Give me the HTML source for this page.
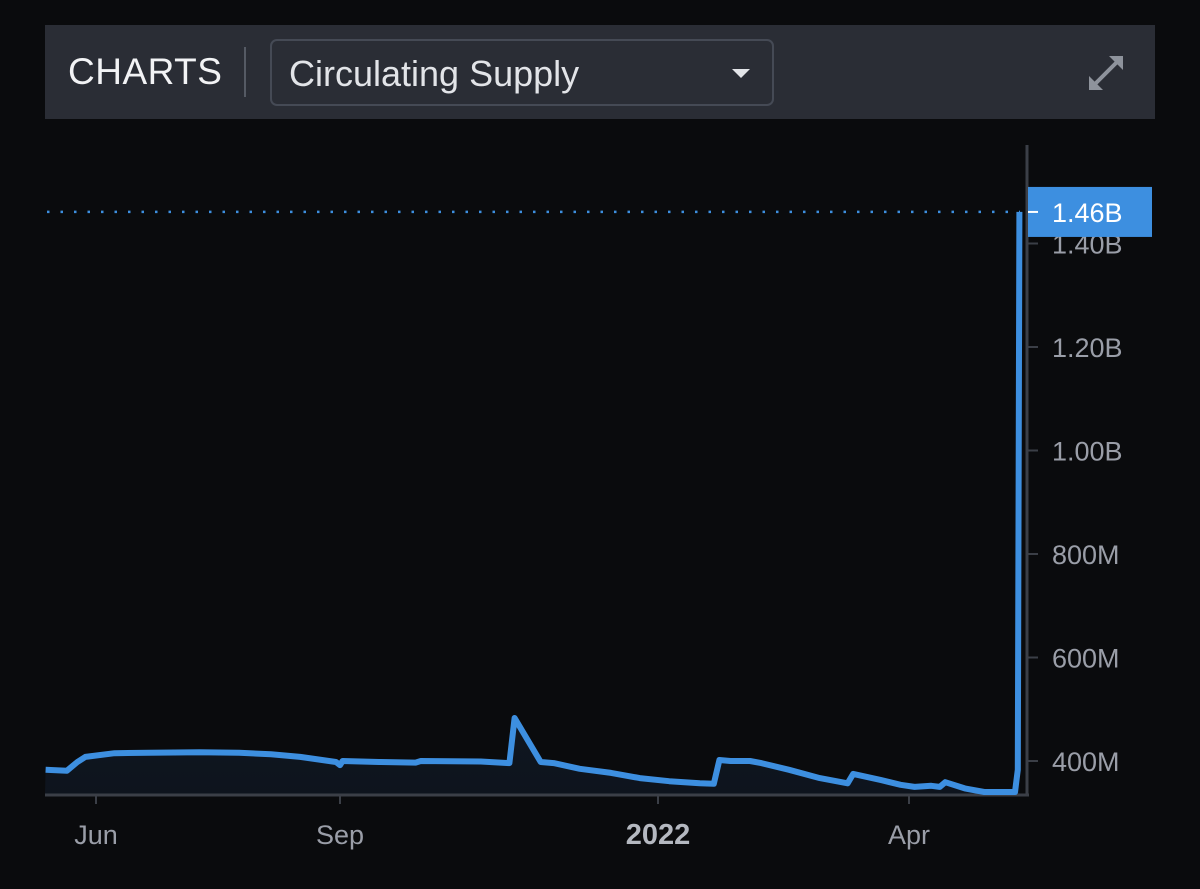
<!DOCTYPE html>
<html><head><meta charset="utf-8"><style>
html,body{margin:0;padding:0;background:#0a0b0d;width:1200px;height:889px;overflow:hidden;font-family:"Liberation Sans","DejaVu Sans",sans-serif}
#hdr{position:absolute;left:45px;top:25px;width:1110px;height:94px;background:#2a2d35}
#ttl{position:absolute;left:23px;top:26px;color:#f2f3f5;font-size:37px;letter-spacing:0.5px}
#sep{position:absolute;left:199px;top:22px;width:2px;height:50px;background:#555a64}
#dd{position:absolute;left:225px;top:14px;width:500px;height:63px;border:2px solid #454a55;border-radius:7px}
#ddt{position:absolute;left:17px;top:12px;color:#e2e4e8;font-size:36px}
#car{position:absolute;left:460px;top:28px;width:0;height:0;border-left:9px solid transparent;border-right:9px solid transparent;border-top:9px solid #e2e4e8}
svg{position:absolute;left:0;top:0}
</style></head><body>
<div id="hdr">
<div id="ttl">CHARTS</div>
<div id="sep"></div>
<div id="dd"><div id="ddt">Circulating Supply</div><div id="car"></div></div>
<svg id="exp" width="42" height="42" viewBox="0 0 42 42" style="left:1040px;top:27px"><g stroke="#8e939c" stroke-width="4" fill="none"><path d="M6 36 L36 6"/></g><path d="M24 4 L38 4 L38 18 Z" fill="#8e939c"/><path d="M4 24 L4 38 L18 38 Z" fill="#8e939c"/></svg>
</div>
<svg id="chart" width="1200" height="889">
<defs><linearGradient id="g" x1="0" y1="0" x2="0" y2="1"><stop offset="0" stop-color="#17263a"/><stop offset="1" stop-color="#0e141d"/></linearGradient></defs>
</svg>
<script>
const days=[-19,-11,-7,-4,7,20,39,54,66,77,90.5,92,93,107,121,123,146,157,159,169,174,184,196,207,218,229,234,236,240,247,251,261,272,282,284,294,301,306,312,315,317,324,331,342,343,343.6];
const supply=[383,381,398,408,415,416,417,416,413,408,398,392,400,398,397,400,399,396,483,398,396,385,377,367,361,357,356,402,400,400,396,383,367,357,375,363,354,350,352,350,359,347,340,340,383,1461];
const xTickDays=[0,92,214,304];
const xTickLabels=["Jun","Sep","2022","Apr"];
const yTicks=[400,600,800,1000,1200,1400];
const yTickLabels=["400M","600M","800M","1.00B","1.20B","1.40B"];
const lastLabel="1.46B";
const NS="http://www.w3.org/2000/svg";
const svg=document.getElementById('chart');
const tickPx=[96,340,658,909];
function X(d){
  let i=0;
  if(d>=xTickDays[2]) i=2; else if(d>=xTickDays[1]) i=1; else i=0;
  const s=(tickPx[i+1]-tickPx[i])/(xTickDays[i+1]-xTickDays[i]);
  return tickPx[i]+(d-xTickDays[i])*s;
}
function Y(v){return 761-(v-400)*0.5175;}
function mk(t,a,txt){const e=document.createElementNS(NS,t);for(const k in a)e.setAttribute(k,a[k]);if(txt!==undefined)e.textContent=txt;svg.appendChild(e);return e;}
let pts=days.map((d,i)=>[X(d),Y(supply[i])]);
pts[0][0]=Math.max(45,pts[0][0]);
const lineD=pts.map((p,i)=>(i?'L':'M')+p[0].toFixed(1)+' '+p[1].toFixed(1)).join(' ');
const area=mk('path',{d:lineD+` L${pts[pts.length-1][0]} 795 L45 795 Z`,fill:'url(#g)'});


const xa=mk('line',{x1:45,y1:795,x2:1029,y2:795,stroke:'#3b3f47','stroke-width':3});


const ya=mk('line',{x1:1027,y1:145,x2:1027,y2:796,stroke:'#3b3f47','stroke-width':3});


xTickDays.forEach((d,i)=>{
  const x=X(d);
  const t=mk('line',{x1:x,y1:796,x2:x,y2:804,stroke:'#3b3f47','stroke-width':2});
  
  
  const l=mk('text',{x:x,y:844,'text-anchor':'middle',fill:i==2?'#b4b8c0':'#9a9ea8','font-size':i==2?29:27,'font-weight':i==2?'bold':'normal'},xTickLabels[i]);
  
  
});
yTicks.forEach((v,i)=>{
  const y=Y(v);
  const t=mk('line',{x1:1028,y1:y,x2:1038,y2:y,stroke:'#3b3f47','stroke-width':2});
  
  
  const l=mk('text',{x:1052,y:y+10,fill:'#9a9ea8','font-size':27},yTickLabels[i]);
  
  
});
const lastY=Y(supply[supply.length-1]);
const dl=mk('line',{x1:47,y1:lastY,x2:1020,y2:lastY,stroke:'#3d8fe0','stroke-width':2.5,'stroke-dasharray':'2.5 11'});


const ln=mk('path',{d:lineD,fill:'none',stroke:'#3d8fe0','stroke-width':6,'stroke-linejoin':'round'});


const box=mk('rect',{x:1028,y:lastY-25,width:124,height:50,fill:'#3d8fe0'});


const bt=mk('line',{x1:1028,y1:lastY,x2:1038,y2:lastY,stroke:'#fff','stroke-width':2});


const btx=mk('text',{x:1052,y:lastY+10,fill:'#ffffff','font-size':27},lastLabel);


</script>
</body></html>
